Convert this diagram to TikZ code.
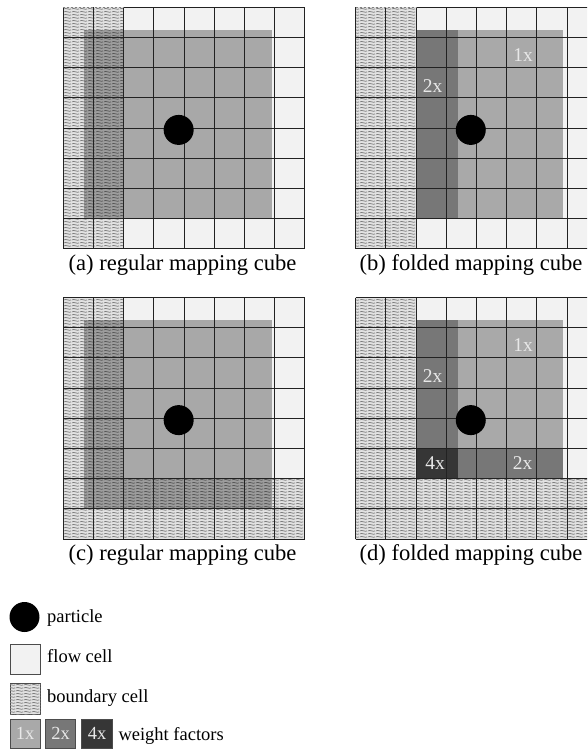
\documentclass[tikz,border=0pt]{standalone}
\usepackage{fontspec}
\setmainfont{Liberation Serif}
\usetikzlibrary{patterns.meta}

\definecolor{flowgray}{HTML}{F2F2F2}
\definecolor{hatchbg}{HTML}{E2E2E2}
\definecolor{hatchline}{HTML}{7C7C7C}
\definecolor{wone}{HTML}{A9A9A9}
\definecolor{wtwo}{HTML}{777777}
\definecolor{wfour}{HTML}{363636}
\definecolor{gridcol}{HTML}{222222}
\definecolor{labelcol}{HTML}{E8E8E8}

% horizontal wavy lines for boundary cells
\tikzdeclarepattern{
  name=wavyhatch,
  type=uncolored,
  bounding box={(0pt,0pt) and (8pt,2.6pt)},
  tile size={(8pt,2.6pt)},
  code={
    \draw[line width=0.85pt] (0pt,1.3pt) sin (2pt,1.75pt) cos (4pt,1.3pt)
      sin (6pt,0.85pt) cos (8pt,1.3pt);
  }
}

\tikzset{
  flowfill/.style={fill=flowgray},
  bndfill/.style={fill=hatchbg, postaction={pattern=wavyhatch, pattern color=hatchline}},
  gridln/.style={draw=gridcol, line width=0.9pt},
  particle/.style={circle, fill=black, minimum size=30pt, inner sep=0pt},
  wlabel/.style={text=labelcol, font=\fontsize{19.5}{22}\selectfont, inner sep=0pt},
  caption/.style={font=\fontsize{22.6}{26}\selectfont, inner sep=0pt, anchor=base},
  legtext/.style={font=\fontsize{18.5}{22}\selectfont, inner sep=0pt, anchor=base west},
  legbox/.style={draw=black!70, line width=0.8pt},
}

% 8 x 8 cell lines of one panel (top edge drawn separately)
\newcommand\mcinnerlines{%
  \foreach \i in {0,...,8} {\draw[gridln] (\i,0) -- (\i,8);}
  \foreach \j in {1,...,8} {\draw[gridln] (0,\j) -- (8,\j);}
}

\begin{document}
\begin{tikzpicture}[x=1pt,y=-1pt]
\useasboundingbox (0,0) rectangle (587,749);
\clip (0,0) rectangle (587,749);
\fill[white] (0,0) rectangle (587,749);

% ---------- (a) regular mapping cube ----------
\begin{scope}[shift={(63.3,7.3)},x=30.2pt,y=-30.2pt]
  \fill[flowgray] (0,0) rectangle (8,8);
  \path[bndfill] (0,0) rectangle (2,8);
  \fill[black,opacity=0.3] (0.7,0.75) rectangle (6.9,7);
  \mcinnerlines
  \draw[gridln] (2,0) -- (8,0);
  \draw[draw=gray,line width=0.9pt,dash pattern=on 2pt off 2pt] (0,0) -- (2,0);
  \node[particle] (pa) at (3.82,4.06) {};
\end{scope}
\node[caption] (capa) at (182.5,270) {(a) regular mapping cube};

% ---------- (b) folded mapping cube ----------
\begin{scope}[shift={(355.7,7.3)},x=30.2pt,y=-30.2pt]
  \fill[flowgray] (0,0) rectangle (8,8);
  \path[bndfill] (0,0) rectangle (2,8);
  \fill[wtwo] (2,0.75) rectangle (3.4,7);
  \fill[wone] (3.4,0.75) rectangle (6.88,7);
  \mcinnerlines
  \draw[gridln] (2,0) -- (8,0);
  \draw[draw=gray,line width=0.9pt,dash pattern=on 2pt off 2pt] (0,0) -- (2,0);
  \node[particle] (pb) at (3.81,4.06) {};
  \node[wlabel] (b1x) at (5.54,1.58) {1x};
  \node[wlabel] (b2x) at (2.55,2.6) {2x};
\end{scope}
\node[caption] (capb) at (471,270) {(b) folded mapping cube};

% ---------- (c) regular mapping cube ----------
\begin{scope}[shift={(63.3,297.5)},x=30.2pt,y=-30.2pt]
  \fill[flowgray] (0,0) rectangle (8,8);
  \path[bndfill] (0,0) rectangle (2,8);
  \path[bndfill] (2,6) rectangle (8,8);
  \fill[black,opacity=0.3] (0.7,0.75) rectangle (6.9,7);
  \mcinnerlines
  \draw[gridln] (0,0) -- (8,0);
  \node[particle] (pc) at (3.82,4.06) {};
\end{scope}
\node[caption] (capc) at (182.5,560) {(c) regular mapping cube};

% ---------- (d) folded mapping cube ----------
\begin{scope}[shift={(355.7,297.5)},x=30.2pt,y=-30.2pt]
  \fill[flowgray] (0,0) rectangle (8,8);
  \path[bndfill] (0,0) rectangle (2,8);
  \path[bndfill] (2,6) rectangle (8,8);
  \fill[wtwo] (2,0.75) rectangle (3.4,5);
  \fill[wone] (3.4,0.75) rectangle (6.88,5);
  \fill[wfour] (2,5) rectangle (3.4,6);
  \fill[wtwo] (3.4,5) rectangle (6.88,6);
  \mcinnerlines
  \draw[gridln] (0,0) -- (8,0);
  \node[particle] (pd) at (3.81,4.06) {};
  \node[wlabel] (d1x) at (5.54,1.57) {1x};
  \node[wlabel] (d2xa) at (2.55,2.6) {2x};
  \node[wlabel] (d4x) at (2.63,5.48) {4x};
  \node[wlabel] (d2xb) at (5.53,5.48) {2x};
\end{scope}
\node[caption] (capd) at (471,560) {(d) folded mapping cube};

% ---------- legend ----------
\node[particle] (lpart) at (24.5,617) {};
\node[legtext] (lparttxt) at (47,622) {particle};

\path[legbox, flowfill] (10,644) rectangle (40.7,674.3);
\node[legtext] (lflowtxt) at (47,662.5) {flow cell};

\path[legbox, bndfill] (10,683.3) rectangle (40.7,714);
\node[legtext] (lbndtxt) at (47,702) {boundary cell};

\path[legbox, fill=wone] (10,719.3) rectangle (40.3,748.3);
\node[wlabel, font=\fontsize{18.5}{22}\selectfont] (l1x) at (25.2,733.8) {1x};
\path[legbox, fill=wtwo] (45.3,719.3) rectangle (75.8,748.3);
\node[wlabel, font=\fontsize{18.5}{22}\selectfont] (l2x) at (60.5,733.8) {2x};
\path[legbox, fill=wfour] (81.8,719.3) rectangle (112.3,748.3);
\node[wlabel, font=\fontsize{18.5}{22}\selectfont] (l4x) at (97,733.8) {4x};
\node[legtext] (lwtxt) at (118.3,740) {weight factors};
\end{tikzpicture}
\end{document}
